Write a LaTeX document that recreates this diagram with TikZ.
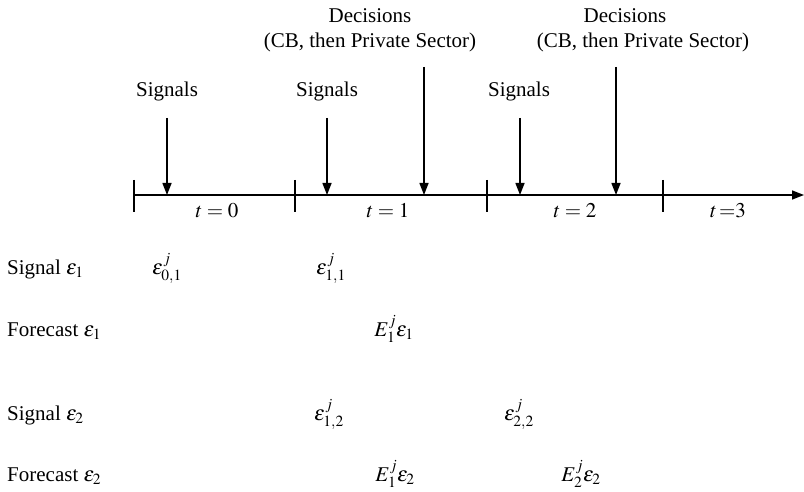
\documentclass[tikz,border=0pt]{standalone}
\usepackage{mathptmx}
\usepackage{fontspec}
\setmainfont{Liberation Serif}
\usetikzlibrary{arrows.meta}
\tikzset{
  txt/.style={inner sep=0pt, anchor=base, font=\fontsize{21}{25}\selectfont},
  arr/.style={line width=1.4pt, -{Triangle[length=12pt,width=9pt]}},
  tick/.style={line width=1.4pt},
}
\begin{document}
\begin{tikzpicture}[x=1pt,y=-1pt]
\useasboundingbox (0,0) rectangle (804,492);
% timeline
\coordinate (tl0) at (134,195);
\coordinate (tlE) at (804,195);
\draw[arr] (tl0) -- (tlE);
\foreach \x [count=\i] in {134,295,487,663}{
  \coordinate (ta\i) at (\x,180);
  \coordinate (tb\i) at (\x,212);
  \draw[tick] (ta\i) -- (tb\i);
}
% period labels
\node[txt] (p0) at (217,218) {$t=0$};
\node[txt] (p1) at (388,218) {$t=1$};
\node[txt] (p2) at (575,218) {$t=2$};
\node[txt] (p3) at (728,218) {$t\,{=}3$};
% signal labels and arrows
\node[txt] (s0) at (167,97) {Signals};
\node[txt] (s1) at (327,97) {Signals};
\node[txt] (s2) at (519,97) {Signals};
\coordinate (s0a) at (167,118); \coordinate (s0b) at (167,195);
\coordinate (s1a) at (327,118); \coordinate (s1b) at (327,195);
\coordinate (s2a) at (520,118); \coordinate (s2b) at (520,195);
\draw[arr] (s0a) -- (s0b);
\draw[arr] (s1a) -- (s1b);
\draw[arr] (s2a) -- (s2b);
% decisions
\node[txt] (d1) at (370,23) {Decisions};
\node[txt] (d1b) at (370,48) {(CB, then Private Sector)};
\node[txt] (d2) at (625,23) {Decisions};
\node[txt] (d2b) at (643,48) {(CB, then Private Sector)};
\coordinate (d1a) at (424,67); \coordinate (d1e) at (424,195);
\coordinate (d2a) at (616,67); \coordinate (d2e) at (616,195);
\draw[arr] (d1a) -- (d1e);
\draw[arr] (d2a) -- (d2e);
% row labels
\node[txt, anchor=base west] (r1) at (7,274) {Signal $\varepsilon_1$};
\node[txt, anchor=base west] (r2) at (7,336) {Forecast $\varepsilon_1$};
\node[txt, anchor=base west] (r3) at (7,420) {Signal $\varepsilon_2$};
\node[txt, anchor=base west] (r4) at (7,481) {Forecast $\varepsilon_2$};
% entries
\node[txt] (e01) at (167,274) {$\varepsilon^{j}_{0,1}$};
\node[txt] (e11) at (331,274) {$\varepsilon^{j}_{1,1}$};
\node[txt] (f11) at (394,336) {$E^{j}_{1}\varepsilon_1$};
\node[txt] (e12) at (329,420) {$\varepsilon^{j}_{1,2}$};
\node[txt] (e22) at (519,420) {$\varepsilon^{j}_{2,2}$};
\node[txt] (f12) at (395,481) {$E^{j}_{1}\varepsilon_2$};
\node[txt] (f22) at (581,481) {$E^{j}_{2}\varepsilon_2$};
\end{tikzpicture}
\end{document}
